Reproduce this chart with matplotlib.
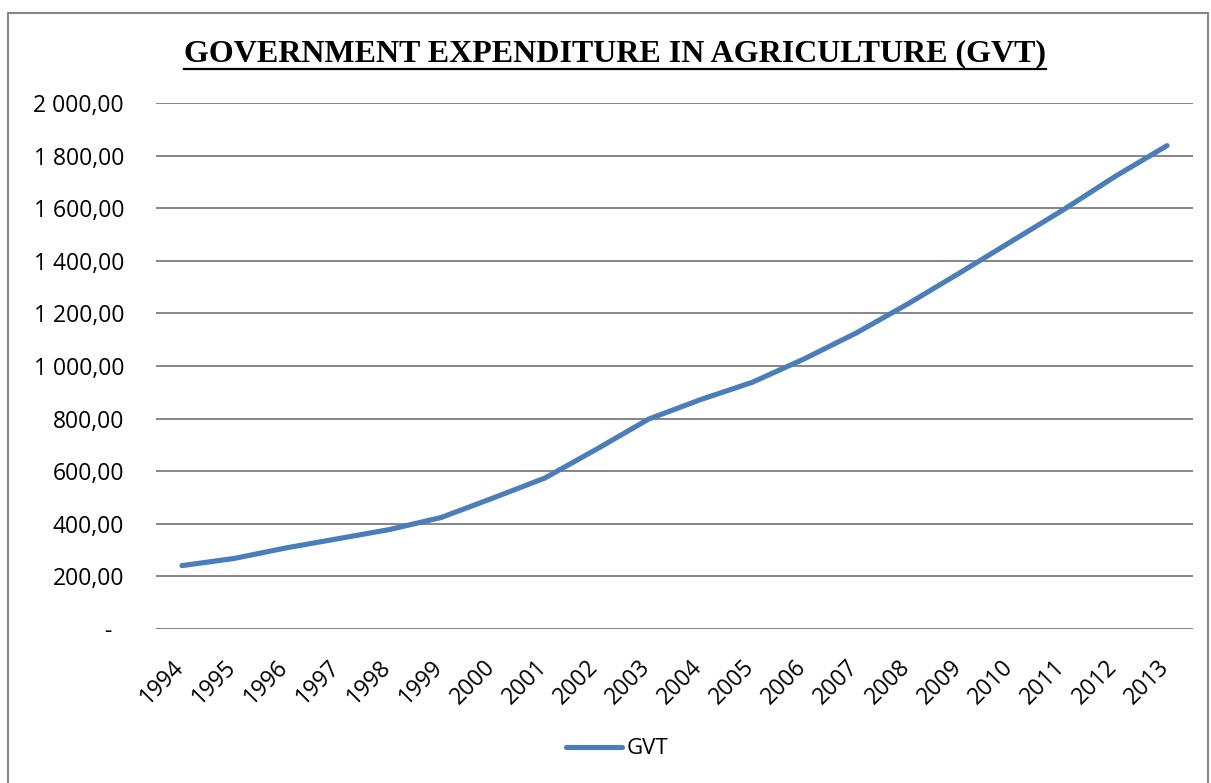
import matplotlib.pyplot as plt
import matplotlib.transforms as mtransforms
from matplotlib.lines import Line2D
from matplotlib.patches import Rectangle
from matplotlib.ticker import FuncFormatter, MultipleLocator

# Government expenditure in agriculture, by year
years = ["1994", "1995", "1996", "1997", "1998", "1999", "2000", "2001", "2002", "2003",
         "2004", "2005", "2006", "2007", "2008", "2009", "2010", "2011", "2012", "2013"]
gvt = [241, 268, 308, 343, 378, 424, 498, 574, 684, 798,
       872, 938, 1027, 1125, 1236, 1354, 1474, 1594, 1721, 1838]

W, H = 1211, 783
line_col = "#4A7EBB"
grid_col = "#868686"
tick_font = "Open Sans"


def money(v, pos):
    # "2 000,00" style, zero shown as a dash
    if abs(v) < 1e-9:
        return "-  "
    return "{:,.2f}".format(v).replace(",", " ").replace(".", ",")


fig = plt.figure(figsize=(W / 100, H / 100), dpi=100)
ax = fig.add_axes([156 / W, 1 - 629 / H, (1193 - 156) / W, (629 - 103) / H])

x = list(range(len(years)))
ax.plot(x, gvt, color=line_col, lw=3.7, solid_capstyle="round", label="GVT", zorder=3)

ax.set_xlim(-0.5, len(years) - 0.5)
ax.set_ylim(0, 2000)
ax.yaxis.set_major_locator(MultipleLocator(200))
ax.yaxis.set_major_formatter(FuncFormatter(money))
ax.set_xticks(x)
ax.set_xticklabels(years, rotation=45, ha="right", va="top")

ax.yaxis.grid(True, color=grid_col, lw=1.4)
ax.set_axisbelow(True)
for s in ax.spines.values():
    s.set_visible(False)
ax.tick_params(axis="both", length=0)
ax.tick_params(axis="y", pad=23, labelsize=16.5)
ax.tick_params(axis="x", pad=19, labelsize=16.5)
shift = mtransforms.ScaledTranslation(7 / 100, 0, fig.dpi_scale_trans)
for lab in ax.get_xticklabels():
    lab.set_family(tick_font)
    lab.set_transform(lab.get_transform() + shift)
for lab in ax.get_yticklabels():
    lab.set_family(tick_font)

leg = ax.legend(loc="center", bbox_to_anchor=(617 / W, 1 - 749 / H),
                bbox_transform=fig.transFigure, frameon=False,
                handlelength=2.5, handletextpad=0.2,
                prop={"family": tick_font, "size": 16})

# title with underline
title = fig.text(615 / W, 1 - 54 / H, "GOVERNMENT EXPENDITURE IN AGRICULTURE (GVT)",
                 ha="center", va="center", fontsize=23, fontweight="bold",
                 family="Liberation Serif")
fig.canvas.draw()
bb = title.get_window_extent()
uy = 1 - 69 / H
fig.add_artist(Line2D([bb.x0 / W, bb.x1 / W], [uy, uy], transform=fig.transFigure,
                      color="black", lw=1.6))

# outer chart frame
fig.add_artist(Rectangle((8 / W, -0.02), (1208 - 8) / W, 1 - 12.5 / H + 0.02,
                         transform=fig.transFigure, fill=False,
                         edgecolor="#878787", lw=1.5))

fig.savefig("out.png", dpi=100)
